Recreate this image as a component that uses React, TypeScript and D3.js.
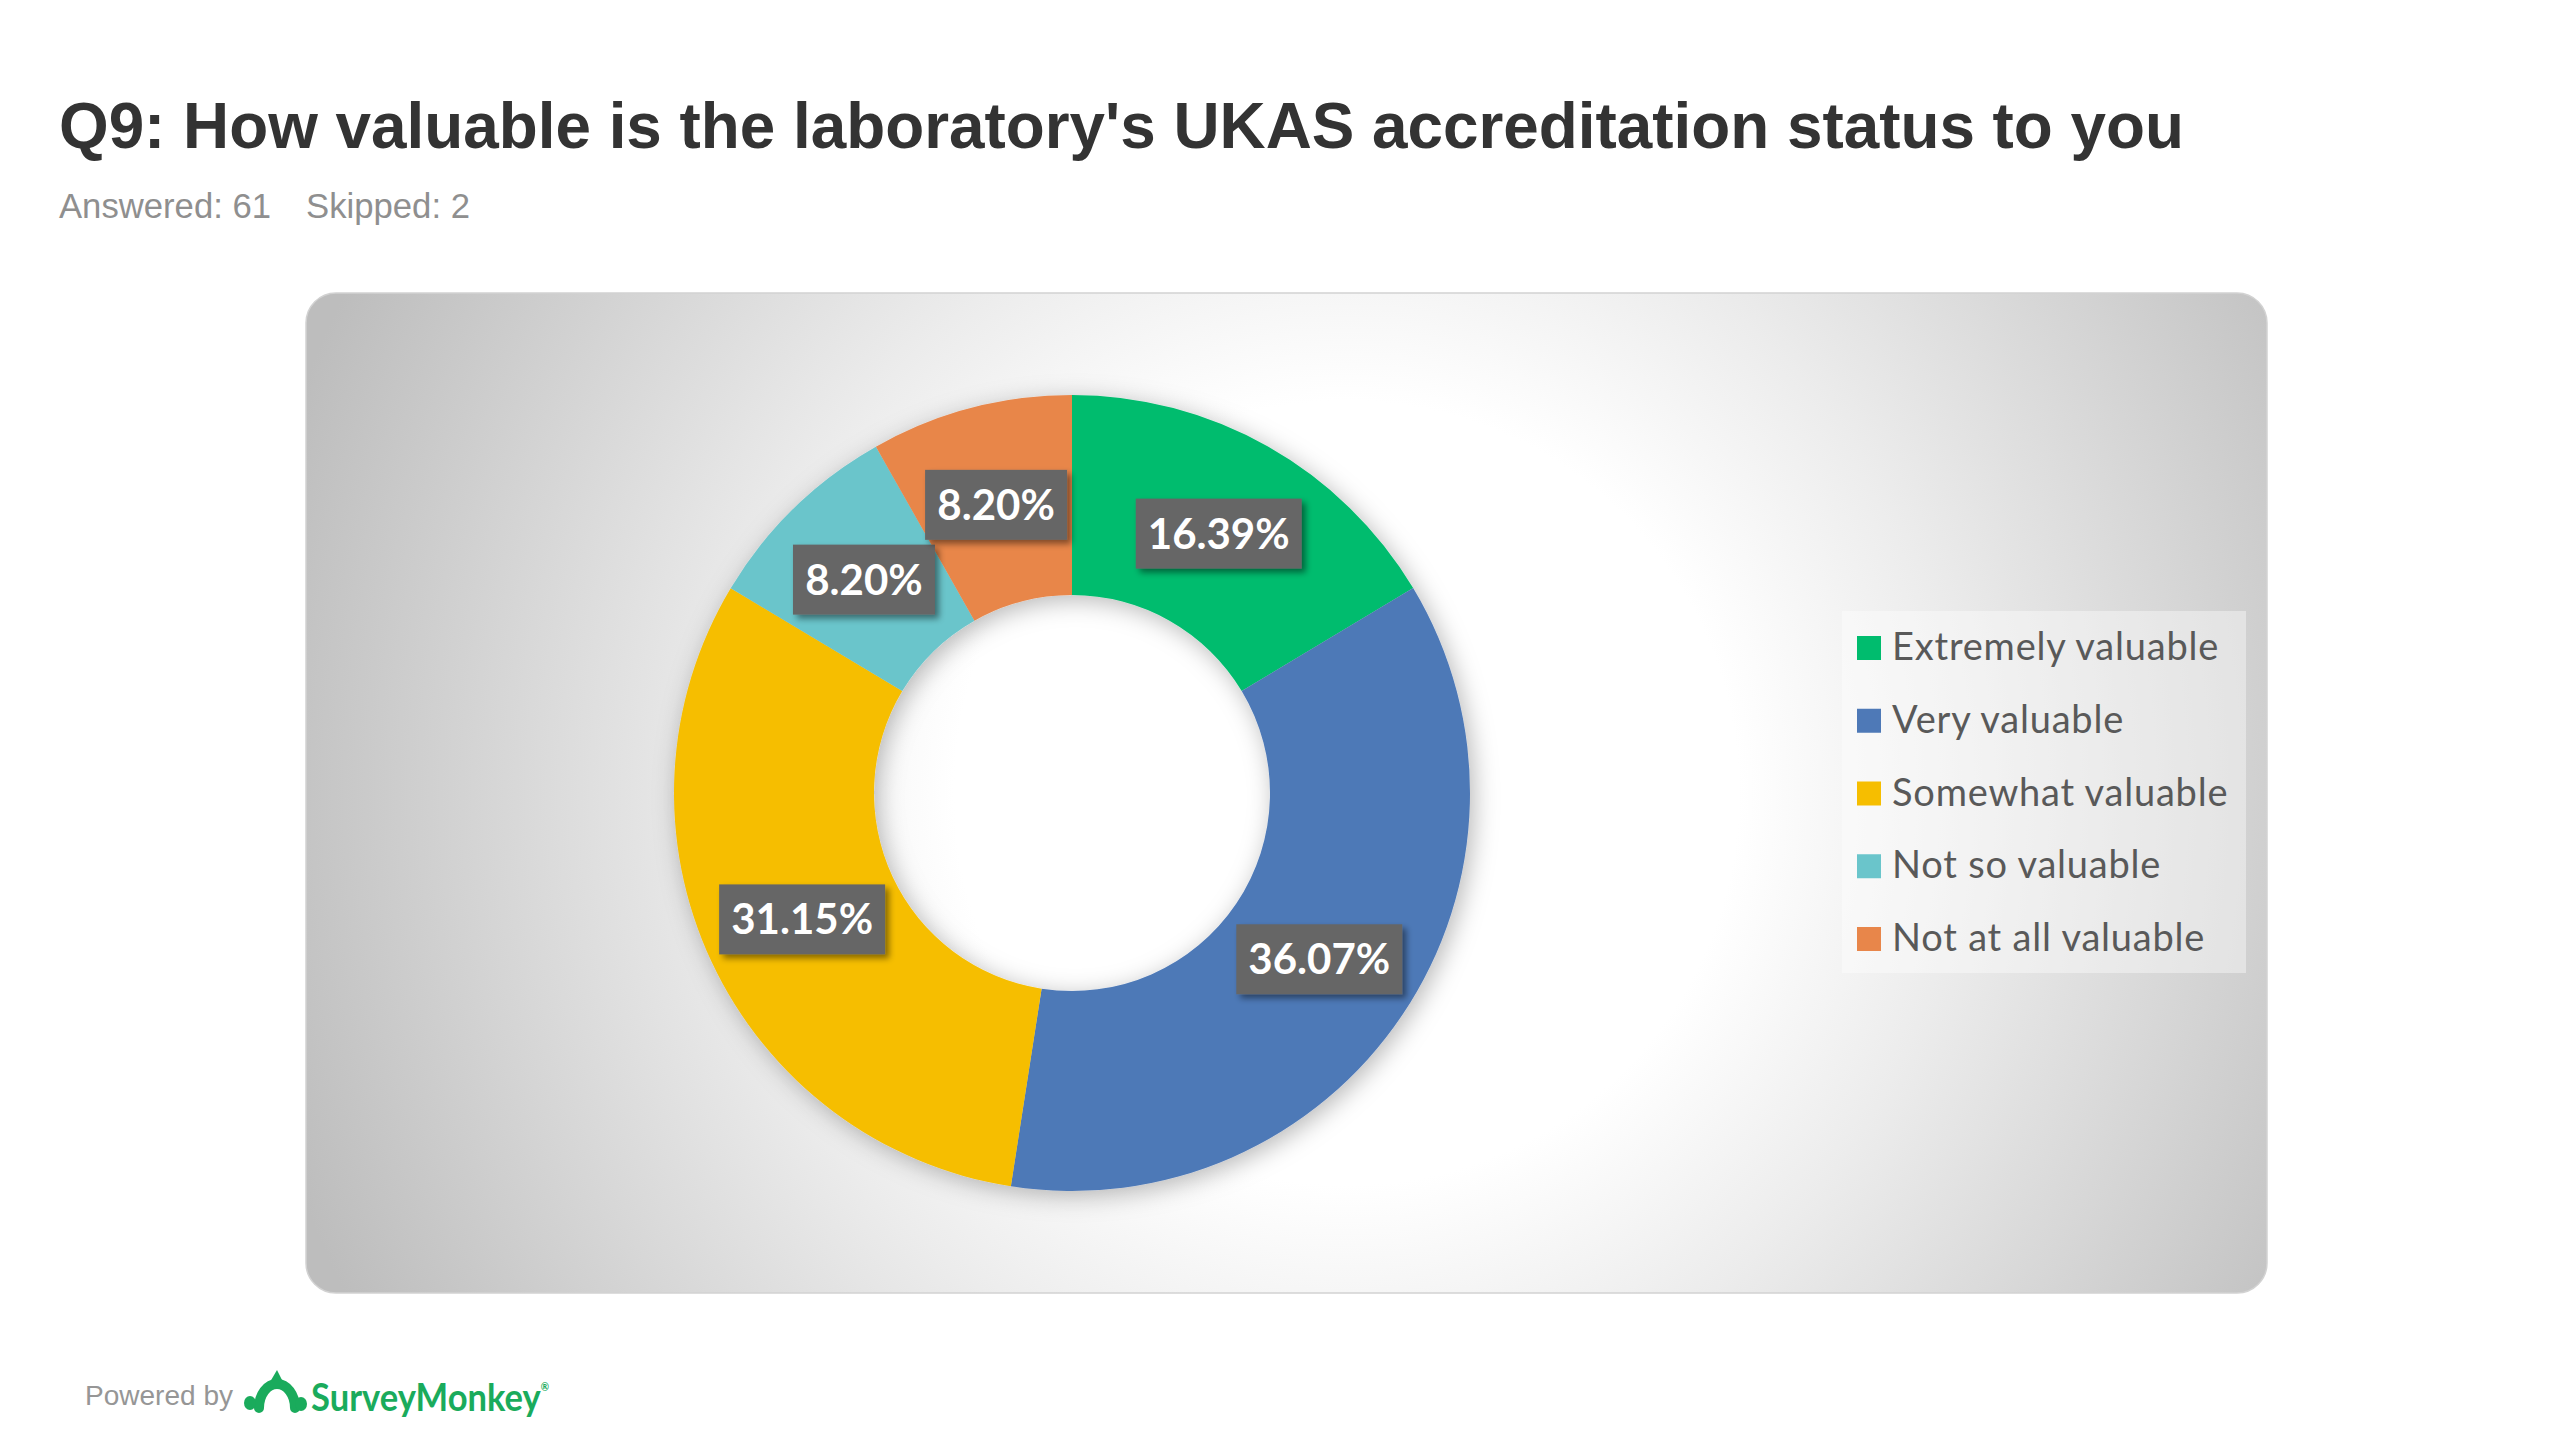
import React from 'react';
import * as d3 from 'd3';

const title = "Q9: How valuable is the laboratory's UKAS accreditation status to you";
const answeredText = 'Answered: 61';
const skippedText = 'Skipped: 2';
const categories = ['Extremely valuable', 'Very valuable', 'Somewhat valuable', 'Not so valuable', 'Not at all valuable'];
const values = [16.39, 36.07, 31.15, 8.2, 8.2];
const colors = ['#00BC6E', '#4E79B7', '#F6BE00', '#6AC5CB', '#E8864A'];

const W = 2560;
const H = 1440;
const panel = { x: 306, y: 293, w: 1961, h: 1000, r: 30 };
const cx = 1072;
const cy = 793;
const outerR = 398;
const innerR = 198;

export default function App() {
  const pie = d3.pie<number>().sort(null).value((d) => d).startAngle(0).endAngle(Math.PI * 2);
  const arcs = pie(values);
  const arc = d3.arc<d3.PieArcDatum<number>>().innerRadius(innerR).outerRadius(outerR);

  const legendY = d3.scalePoint<string>().domain(categories).range([648, 939]);
  const pcx = panel.x + panel.w / 2 + 60;
  const pcy = panel.y + panel.h / 2;

  return (
    <svg width={W} height={H} style={{ position: 'fixed', left: 0, top: 0, display: 'block', background: '#fff' }}>
      <defs>
        <radialGradient id="bg" gradientUnits="userSpaceOnUse" cx={pcx} cy={pcy} r={1120}>
          <stop offset="0" stopColor="#ffffff" />
          <stop offset="0.35" stopColor="#ffffff" />
          <stop offset="0.55" stopColor="#ececec" />
          <stop offset="1" stopColor="#bdbdbd" />
        </radialGradient>
        <filter id="donutShadow" x="-20%" y="-20%" width="140%" height="140%">
          <feDropShadow dx="4" dy="5" stdDeviation="12" floodColor="#000" floodOpacity="0.28" />
        </filter>
        <filter id="boxShadow" x="-20%" y="-20%" width="150%" height="160%">
          <feDropShadow dx="4" dy="4" stdDeviation="3" floodColor="#000" floodOpacity="0.45" />
        </filter>
      </defs>

      <text x={59} y={148} fontFamily="'Liberation Sans', Arial, sans-serif" fontWeight="bold" fontSize={64}
        fill="#333" textLength={2125} lengthAdjust="spacingAndGlyphs">{title}</text>
      <text x={59} y={218} fontFamily="'Liberation Sans', Arial, sans-serif" fontSize={35} fill="#8f8f8f"
        textLength={212} lengthAdjust="spacingAndGlyphs">{answeredText}</text>
      <text x={306} y={218} fontFamily="'Liberation Sans', Arial, sans-serif" fontSize={35} fill="#8f8f8f"
        textLength={164} lengthAdjust="spacingAndGlyphs">{skippedText}</text>

      <rect x={panel.x} y={panel.y} width={panel.w} height={panel.h} rx={panel.r} ry={panel.r}
        fill="url(#bg)" stroke="#d2d2d2" strokeWidth={1.5} />

      <g transform={`translate(${cx},${cy})`}>
        <g filter="url(#donutShadow)">
          {arcs.map((a, i) => (
            <path key={i} d={arc(a) || ''} fill={colors[i]} />
          ))}
        </g>
        {arcs.map((a, i) => {
          const [lx, ly] = arc.centroid(a);
          const label = values[i].toFixed(2) + '%';
          const bw = label.length * 24 + 22;
          const bh = 70;
          return (
            <g key={'l' + i} transform={`translate(${lx},${ly})`}>
              <rect x={-bw / 2} y={-bh / 2} width={bw} height={bh} fill="#666" filter="url(#boxShadow)" />
              <text x={0} y={15} textAnchor="middle" fontFamily="Lato, 'Open Sans', sans-serif" fontWeight="bold"
                fontSize={42} fill="#fff">{label}</text>
            </g>
          );
        })}
      </g>

      <rect x={1842} y={611} width={404} height={362} fill="#fff" fillOpacity={0.4} />
      {categories.map((c, i) => {
        const y = legendY(c) as number;
        return (
          <g key={c}>
            <rect x={1857} y={y - 12} width={24} height={24} fill={colors[i]} />
            <text x={1892} y={y + 12} fontFamily="Lato, 'Open Sans', sans-serif" fontSize={38} letterSpacing={0.8}
              fill="#595959">{c}</text>
          </g>
        );
      })}

      <text x={85} y={1405} fontFamily="'Liberation Sans', Arial, sans-serif" fontSize={28} fill="#969696"
        textLength={148} lengthAdjust="spacingAndGlyphs">Powered by</text>
      <g fill="#1aab5c" stroke="#1aab5c">
        <path d="M 259 1408 A 18 24 0 0 1 295 1408" fill="none" strokeWidth={10} strokeLinecap="round" />
        <ellipse cx={250} cy={1403} rx={6} ry={7} stroke="none" />
        <ellipse cx={301} cy={1404} rx={6} ry={7} stroke="none" />
        <path d="M 270 1382 L 277 1370 L 283 1382 Z" stroke="none" />
      </g>
      <text x={311} y={1411} fontFamily="Lato, 'Open Sans', sans-serif" fontWeight="bold" fontSize={38} fill="#1aab5c"
        textLength={238} lengthAdjust="spacingAndGlyphs">SurveyMonkey<tspan fontSize={11} dy={-20}>®</tspan></text>
    </svg>
  );
}
